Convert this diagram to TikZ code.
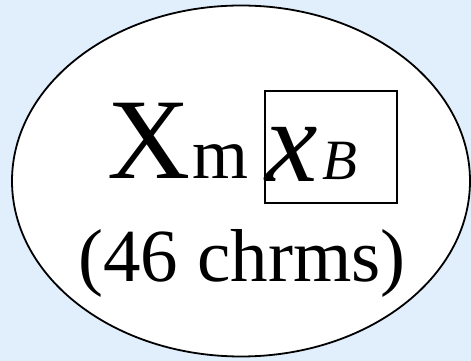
\documentclass[tikz,border=0pt]{standalone}
\usepackage{fontspec}
\setmainfont{Liberation Serif}
\usetikzlibrary{shapes.geometric}
\definecolor{slide}{RGB}{225,238,251}

\begin{document}
\begin{tikzpicture}[x=1pt, y=1pt,
   glyph/.style={inner sep=0pt, anchor=base west},
   huge/.style={glyph, font=\fontsize{115}{115}\selectfont},
   mid/.style={glyph, font=\fontsize{72}{72}\selectfont}]
  \fill[slide] (0,0) rectangle (471,361);
  \useasboundingbox (0,0) rectangle (471,361);

  \node[draw, ellipse, fill=white, line width=1.8pt, inner sep=0pt,
        minimum width=458pt, minimum height=351pt] (cell) at (241,180) {};

  \node[huge] (X) at (107,182) {X};
  \node[mid] (m) at (192,182) {m};
  \node[draw, line width=1.3pt, inner sep=0pt,
        minimum width=132pt, minimum height=112pt] (xbox) at (331,214) {};
  \node[huge, font=\fontsize{118}{118}\selectfont\itshape] (x) at (265,179) {x};
  \node[glyph, font=\fontsize{57}{57}\selectfont\itshape] (B) at (322,181) {B};

  \node[inner sep=0pt, anchor=base, font=\fontsize{75}{75}\selectfont]
       (count) at (242,79) {(46 chrms)};
\end{tikzpicture}
\end{document}
